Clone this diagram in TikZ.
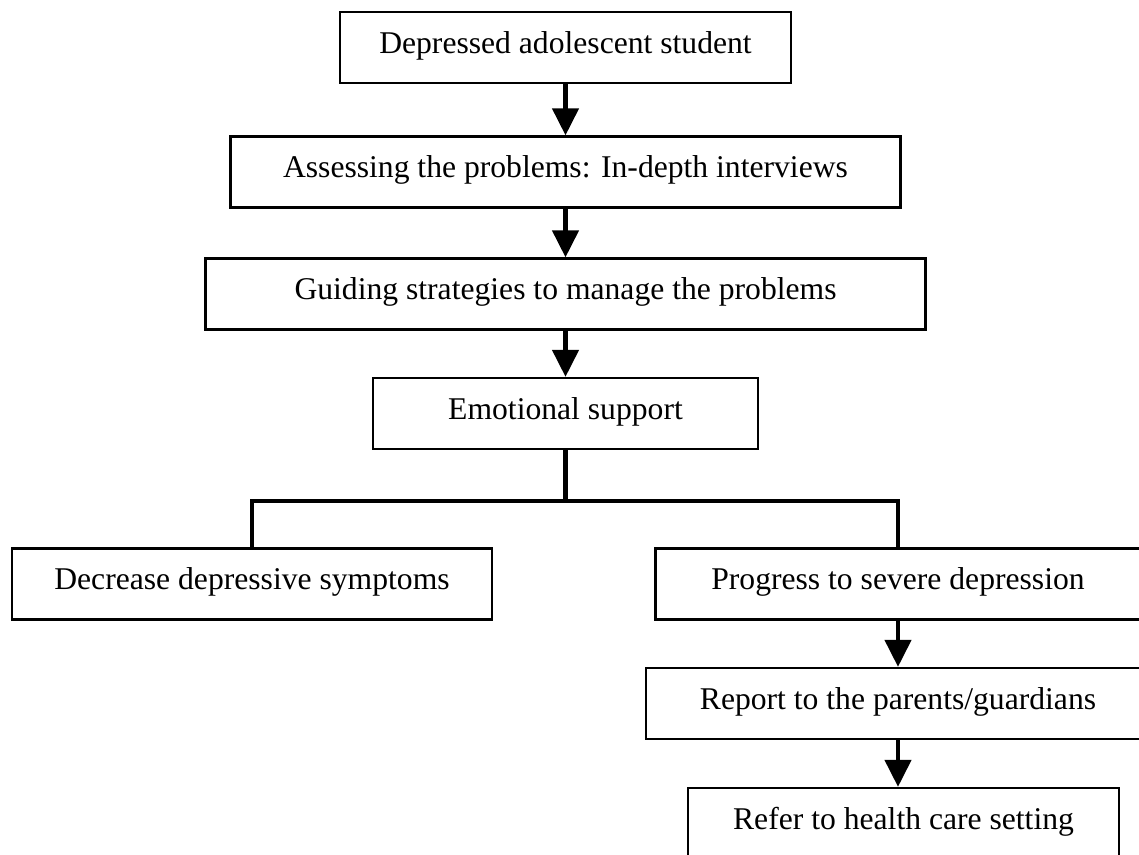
\documentclass[tikz,border=0pt]{standalone}
\usepackage{fontspec}
\setmainfont{Liberation Serif}
\usetikzlibrary{arrows.meta}
\begin{document}
\begin{tikzpicture}
    \tikzstyle{rect} = [shape=rectangle, draw, line width=1.3pt, inner sep=0pt, text height=0.82cm, text depth=0.6cm, font=\fontsize{18}{22}\selectfont]
    \tikzstyle{flow} = [line width=2.5pt, -{Triangle[width=0.52cm, length=0.54cm]}]
    \tikzstyle{link} = [line width=2.5pt, line join=miter]

    \useasboundingbox (0,0) rectangle (22.78,-17.08);
    \clip (0,0) rectangle (22.78,-17.08);

    \node[rect, minimum width=9.02cm]  (dep)  at (11.31, -0.95)  {Depressed adolescent student};
    \node[rect, minimum width=13.4cm]  (ass)  at (11.31, -3.44)  {Assessing the problems: In-depth interviews};
    \node[rect, minimum width=14.4cm]  (gui)  at (11.31, -5.88)  {Guiding strategies to manage the problems};
    \node[rect, minimum width=7.7cm]   (emo)  at (11.31, -8.27)  {Emotional support};

    \draw[flow] (dep.south) -- (dep.south |- ass.north);
    \draw[flow] (ass.south) -- (ass.south |- gui.north);
    \draw[flow] (gui.south) -- (gui.south |- emo.north);

    \node[rect, minimum width=9.6cm]   (dec)  at (5.04, -11.68)  {Decrease depressive symptoms};
    \node[rect, minimum width=9.7cm]   (prog) at (17.96, -11.68) {Progress to severe depression};

    \coordinate (fork) at (11.31, -10.02);
    \draw[link] (emo.south) -- (fork);
    \draw[link] (dec.north) |- (fork) -| (prog.north);

    \node[rect, minimum width=10.08cm] (rep)  at (17.96, -14.07) {Report to the parents/guardians};
    \node[rect, minimum width=8.62cm]  (ref)  at (18.07, -16.47) {Refer to health care setting};

    \draw[flow] (prog.south) -- (prog.south |- rep.north);
    \draw[flow] (rep.south)  -- (rep.south |- ref.north);

\end{tikzpicture}
\end{document}
